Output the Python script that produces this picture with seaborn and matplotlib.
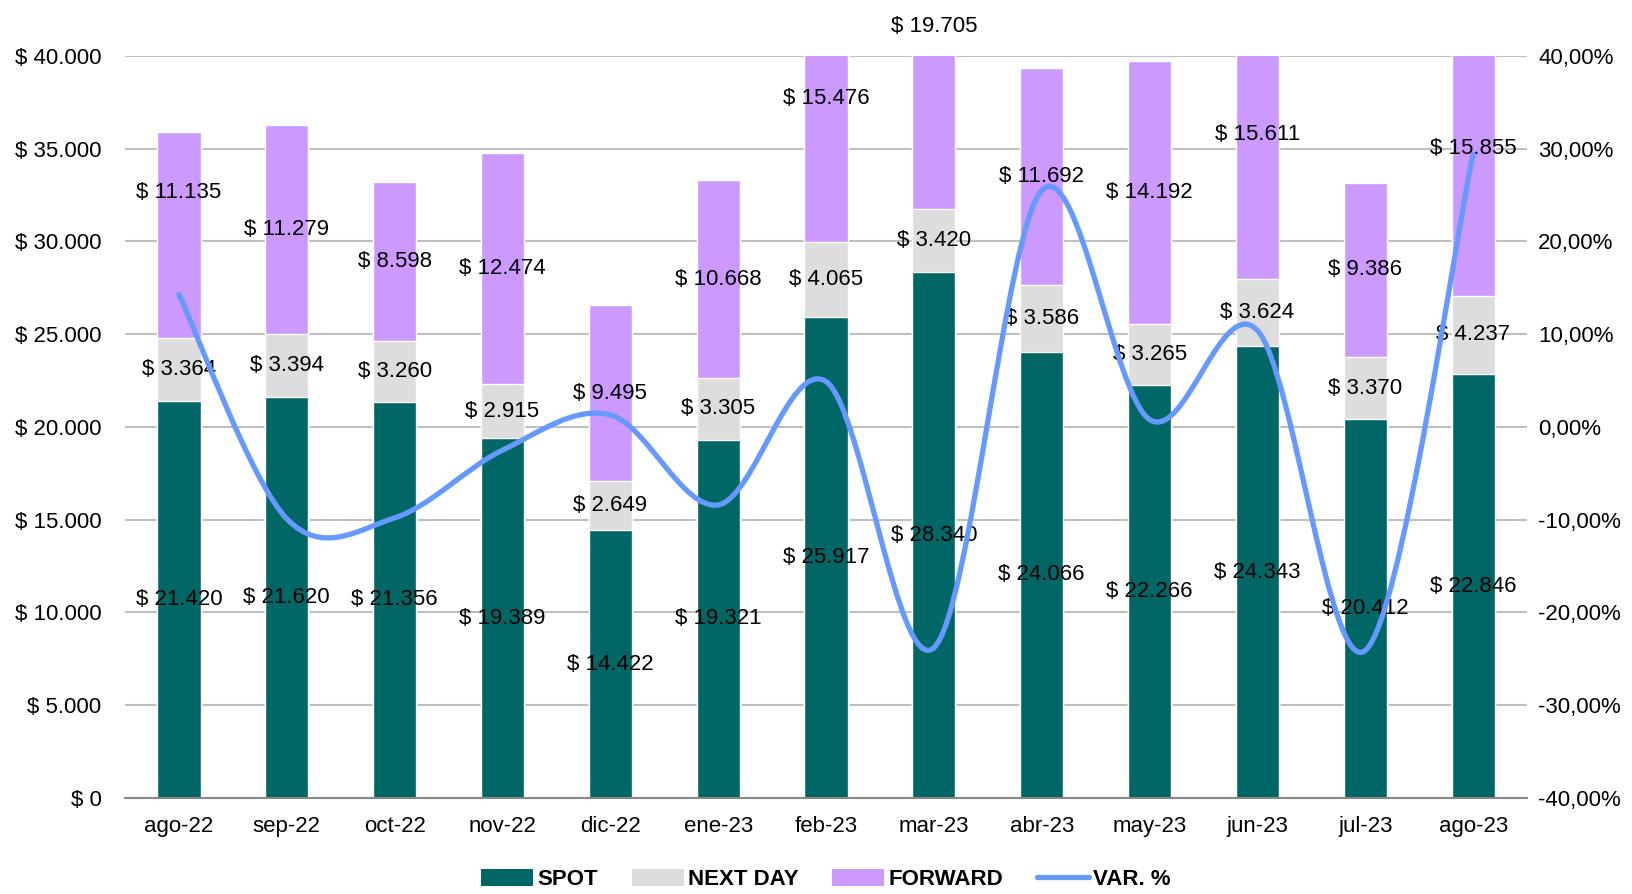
import numpy as np
import pandas as pd
import matplotlib
matplotlib.use("Agg")
import matplotlib.pyplot as plt
from matplotlib import font_manager
from matplotlib.path import Path
from matplotlib.patches import PathPatch
from matplotlib.lines import Line2D
from matplotlib.patches import Patch
import seaborn as sns

# Monthly traded amounts by contract type
months = ["ago-22", "sep-22", "oct-22", "nov-22", "dic-22", "ene-23", "feb-23",
          "mar-23", "abr-23", "may-23", "jun-23", "jul-23", "ago-23"]
spot = [21420, 21620, 21356, 19389, 14422, 19321, 25917, 28340, 24066, 22266, 24343, 20412, 22846]
next_day = [3364, 3394, 3260, 2915, 2649, 3305, 4065, 3420, 3586, 3265, 3624, 3370, 4237]
forward = [11135, 11279, 8598, 12474, 9495, 10668, 15476, 19705, 11692, 14192, 15611, 9386, 15855]
var_pct = [0.143, -0.099, -0.098, -0.025, 0.013, -0.084, 0.049, -0.238, 0.255, 0.008, 0.104, -0.241, 0.294]

C_SPOT = "#006766"
C_ND = "#DDDDDD"
C_FWD = "#CC99FF"
C_LINE = "#6699FF"

sns.set_style("white")
available = {f.name for f in font_manager.fontManager.ttflist}
if "Liberation Sans Narrow" in available:
    FAM = ["Liberation Sans Narrow", "DejaVu Sans"]
    FS = 17
else:
    FAM = ["Liberation Sans", "DejaVu Sans"]
    FS = 16
plt.rcParams["font.family"] = FAM
plt.rcParams["text.color"] = "black"
plt.rcParams["xtick.color"] = "black"
plt.rcParams["ytick.color"] = "black"

df = pd.DataFrame({"month": months, "SPOT": spot, "NEXT DAY": next_day, "FORWARD": forward})
df["lvl2"] = df["SPOT"] + df["NEXT DAY"]
df["total"] = df["lvl2"] + df["FORWARD"]

fig = plt.figure(figsize=(16.32, 8.94), dpi=100)
ax = fig.add_axes([0.0766, 0.1074, 0.8591, 0.8300])

bw = 0.4
sns.barplot(data=df, x="month", y="total", color=C_FWD, width=bw, saturation=1, ax=ax, zorder=2)
sns.barplot(data=df, x="month", y="lvl2", color=C_ND, width=bw, saturation=1, ax=ax, zorder=2)
sns.barplot(data=df, x="month", y="SPOT", color=C_SPOT, width=bw, saturation=1, ax=ax, zorder=2)

yt = np.arange(0, 40001, 5000)
ax.set_ylim(0, 40000)
ax.set_xlim(-0.5, len(months) - 0.5)
ax.set_xlabel("")
ax.set_ylabel("")
ax.set_yticks(yt)
ax.set_yticklabels([f"$ {int(v):,}".replace(",", ".") for v in yt], fontsize=FS)
ax.yaxis.grid(True, color="#BFBFBF", linewidth=1.5, zorder=0)
ax.set_axisbelow(True)
ax.tick_params(axis="y", length=0, pad=17)
ax.tick_params(axis="x", which="major", length=0, pad=13, labelsize=FS)
ax.set_xticks(np.arange(-0.5, len(months), 1.0), minor=True)
ax.tick_params(axis="x", which="minor", length=9, width=1.2, color="#888888", direction="out")
for s in ["top", "left", "right"]:
    ax.spines[s].set_visible(False)
ax.spines["bottom"].set_color("#888888")
ax.spines["bottom"].set_linewidth(1.5)

def money(v):
    return f"$ {v:,}".replace(",", ".")

# Segment value labels, centred in each segment
label_nudge = {(0, "FORWARD"): 2300}
for i, row in df.iterrows():
    segs = [("SPOT", 0, row["SPOT"]), ("NEXT DAY", row["SPOT"], row["NEXT DAY"]),
            ("FORWARD", row["lvl2"], row["FORWARD"])]
    for name, base, val in segs:
        yc = base + val / 2 + label_nudge.get((i, name), 0)
        ax.text(i, yc, money(int(val)), ha="center", va="center", fontsize=FS,
                color="black", zorder=3, clip_on=False)

# Secondary axis: smoothed variation line
ax2 = ax.twinx()
pt = np.round(np.arange(-0.4, 0.401, 0.1), 2)
ax2.set_ylim(-0.4, 0.4)
ax2.set_yticks(pt)
ax2.set_yticklabels([f"{v*100:.2f}".replace(".", ",").replace("-0,00", "0,00") + "%" for v in pt],
                    fontsize=FS)
ax2.tick_params(axis="y", length=0, pad=8)
for s in ["top", "left", "right", "bottom"]:
    ax2.spines[s].set_visible(False)

n = len(var_pct)
pts = [(float(i), float(v)) for i, v in enumerate(var_pct)]
verts = [pts[0]]
codes = [Path.MOVETO]
for i in range(n - 1):
    p_prev = pts[max(i - 1, 0)]
    p0 = pts[i]
    p1 = pts[i + 1]
    p_next = pts[min(i + 2, n - 1)]
    c1 = (p0[0] + (p1[0] - p_prev[0]) / 6, p0[1] + (p1[1] - p_prev[1]) / 6)
    c2 = (p1[0] - (p_next[0] - p0[0]) / 6, p1[1] - (p_next[1] - p0[1]) / 6)
    verts += [c1, c2, p1]
    codes += [Path.CURVE4] * 3
ax2.add_patch(PathPatch(Path(verts, codes), facecolor="none", edgecolor=C_LINE,
                        linewidth=3.8, capstyle="round", joinstyle="round", zorder=5))

handles = [Patch(facecolor=C_SPOT, edgecolor="none"),
           Patch(facecolor=C_ND, edgecolor="none"),
           Patch(facecolor=C_FWD, edgecolor="none"),
           Line2D([0], [0], color=C_LINE, linewidth=3.8)]
fig.legend(handles, ["SPOT", "NEXT DAY", "FORWARD", "VAR. %"], loc="center",
           bbox_to_anchor=(826 / 1632, 0.016), ncol=4, frameon=False,
           prop={"family": FAM, "weight": "bold", "size": FS},
           handlelength=2.35, handleheight=0.75, columnspacing=1.5, handletextpad=0.2,
           borderpad=0.1)

fig.savefig("out.png", dpi=100)
